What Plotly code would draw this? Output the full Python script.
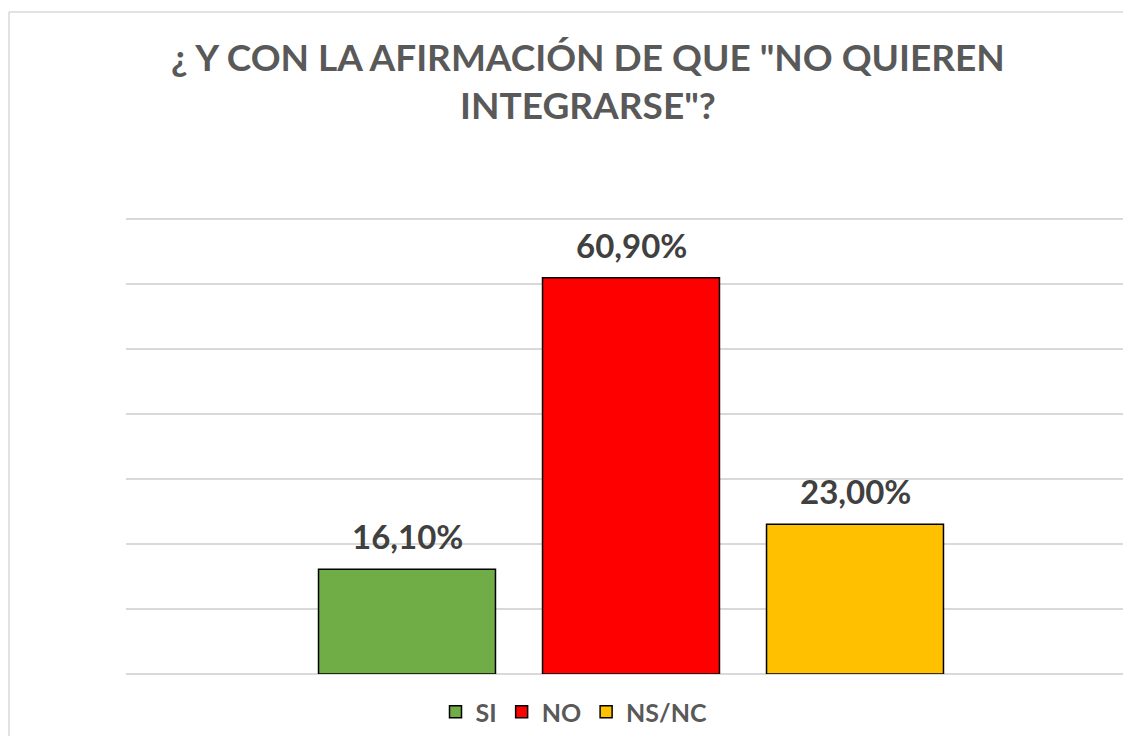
import plotly.graph_objects as go

categories = ["SI", "NO", "NS/NC"]
values = [16.1, 60.9, 23.0]
labels = ["16,10%", "60,90%", "23,00%"]
colors = ["#70AD47", "#FF0000", "#FFC000"]
title_text = '¿ Y CON LA AFIRMACIÓN DE QUE "NO QUIEREN<br>INTEGRARSE"?'

W, H = 1115, 728
ml, mr, mt, mb = 118, 0, 204, 62
pw = W - ml - mr
ph = H - mt - mb
slot = 224.0
x0 = -281.0 / slot
x1 = x0 + pw / slot

fig = go.Figure()
for c, v, col in zip(categories, values, colors):
    fig.add_trace(go.Bar(
        x=[c], y=[v], name="<b>%s</b>" % c, width=0.79,
        marker=dict(color=col, line=dict(color="#000000", width=1.5)),
    ))

for c, v, t in zip(categories, values, labels):
    fig.add_annotation(x=c, y=v, text="<b>%s</b>" % t, showarrow=False,
                       yanchor="bottom", yshift=11,
                       font=dict(family="Lato", size=33, color="#404040"))

# title
fig.add_annotation(xref="paper", yref="paper",
                   x=(580 - ml) / pw, y=1 + (mt - 72) / ph,
                   xanchor="center", yanchor="middle", showarrow=False,
                   text="<b>%s</b>" % title_text, align="center",
                   font=dict(family="Lato", size=37, color="#595959"))

# chart border
fig.add_shape(type="line", xref="paper", yref="paper",
              x0=(1 - ml) / pw, x1=(W + 20 - ml) / pw,
              y0=(ph + mt - 4) / ph, y1=(ph + mt - 4) / ph,
              line=dict(color="#D9D9D9", width=1.5))
fig.add_shape(type="line", xref="paper", yref="paper",
              x0=(1 - ml) / pw, x1=(1 - ml) / pw,
              y0=(ph + mt - 4) / ph, y1=-(mb + 40) / ph,
              line=dict(color="#D9D9D9", width=1.5))

fig.update_layout(
    width=W, height=H,
    margin=dict(l=ml, r=mr, t=mt, b=mb, pad=0),
    plot_bgcolor="white", paper_bgcolor="white",
    barmode="overlay",
    showlegend=True,
    legend=dict(orientation="h", x=(566 - ml) / pw, xanchor="center",
                y=-38 / ph, yanchor="middle",
                font=dict(family="Lato", size=25, color="#595959"),
                itemclick=False, traceorder="normal"),
    xaxis=dict(range=[x0, x1], showticklabels=False, showgrid=False, zeroline=False,
               showline=False, ticks=""),
    yaxis=dict(range=[0, 71], dtick=10, showticklabels=False, showgrid=True,
               gridcolor="#D9D9D9", gridwidth=1.5, zeroline=True, zerolinecolor="#D9D9D9",
               zerolinewidth=1.5, showline=False, ticks=""),
)

fig.write_html("out.html")
